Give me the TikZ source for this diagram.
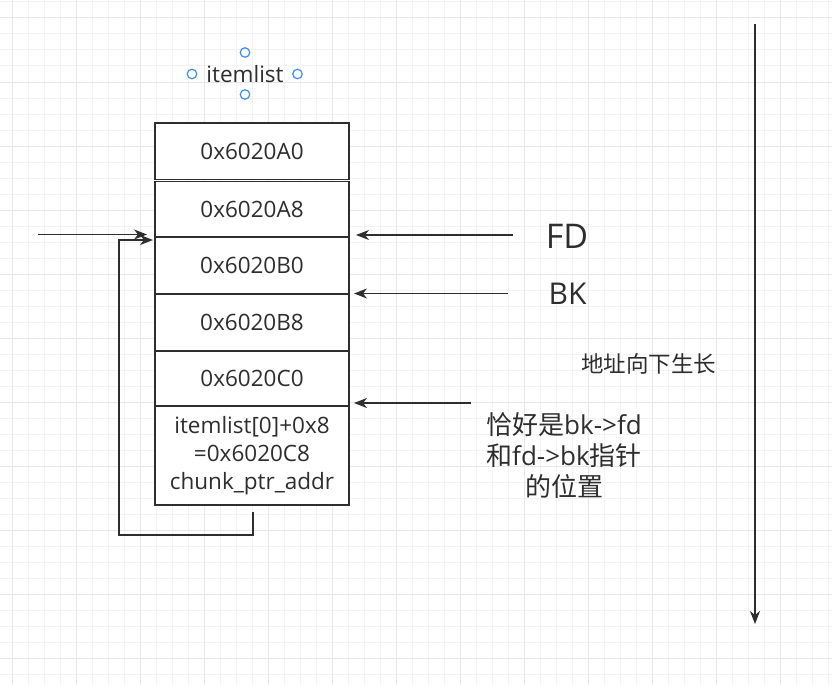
\documentclass[tikz,border=0pt]{standalone}
\usepackage{fontspec}
\setmainfont{Open Sans}
\newfontfamily\cjk{Noto Sans CJK SC}
\usetikzlibrary{arrows.meta}
\definecolor{ink}{HTML}{2E2E2E}
\definecolor{gminor}{HTML}{F3F3F3}
\definecolor{gmajor}{HTML}{E8E8E8}
\definecolor{handle}{HTML}{3D8EF0}
\begin{document}
\begin{tikzpicture}[x=1pt,y=-1pt,
  cell/.style={draw=ink, line width=1.4pt, fill=white, minimum width=194pt, inner sep=0pt,
               font=\fontsize{22.5}{28}\selectfont, text=ink, align=center},
  arr/.style={draw=ink, line width=1.4pt, -{Stealth[length=13pt,width=10pt,inset=4pt]}},
  lbl/.style={text=ink, inner sep=0pt, align=center},
  hnd/.style={circle, draw=handle, line width=1.2pt, fill=white, minimum size=9.5pt, inner sep=0pt}]
\useasboundingbox (0,0) rectangle (832,685);
\fill[white] (0,0) rectangle (832,685);
% grid
\foreach \x in {12,28,...,828} \draw[gminor, line width=1pt] (\x,0) -- (\x,685);
\foreach \y in {2,18,...,674} \draw[gminor, line width=1pt] (0,\y) -- (832,\y);
\foreach \x in {12,76,...,780} \draw[gmajor, line width=1pt] (\x,0) -- (\x,685);
\foreach \y in {18,82,...,658} \draw[gmajor, line width=1pt] (0,\y) -- (832,\y);
% title with handles
\node[lbl, font=\fontsize{22.5}{27}\selectfont] (il) at (245,74) {itemlist};
\node[hnd] (h1) at (245,52.5) {};
\node[hnd] (h2) at (192,74) {};
\node[hnd] (h3) at (297.5,74) {};
\node[hnd] (h4) at (245,94.5) {};
% memory cells
\node[cell, minimum height=56.5pt] (r1) at (252,151.25) {0x6020A0};
\node[cell, minimum height=55.5pt] (r2) at (252,209.25) {0x6020A8};
\node[cell, minimum height=57pt] (r3) at (252,265.5) {0x6020B0};
\node[cell, minimum height=57pt] (r4) at (252,322.5) {0x6020B8};
\node[cell, minimum height=55pt] (r5) at (252,378.5) {0x6020C0};
\node[cell, minimum height=99pt] (r6) at (252,455.5) {itemlist[0]+0x8\\=0x6020C8\\chunk\_ptr\_addr};
% labels
\node[lbl, font=\fontsize{34}{40}\selectfont] (fd) at (567,236) {FD};
\node[lbl, font=\fontsize{30}{36}\selectfont] (bk) at (567.5,294) {BK};
\node[lbl, font=\fontsize{26}{31}\selectfont] (note) at (564,456)
  {{\cjk 恰好是}bk->fd\\{\cjk 和}fd->bk{\cjk 指针}\\{\cjk 的位置}};
\node[lbl, font=\cjk\fontsize{22.5}{27}\selectfont] (grow) at (648.5,364) {地址向下生长};
% connector end points
\coordinate (fdS) at (513,235);
\coordinate (fdE) at (356,235);
\coordinate (bkS) at (508,293.5);
\coordinate (bkE) at (354,293.5);
\coordinate (ntS) at (471,403);
\coordinate (ntE) at (354,403);
\coordinate (inS) at (38,234.5);
\coordinate (inE) at (147,234.5);
\coordinate (lpS) at (253,512);
\coordinate (lpC) at (119,535);
\coordinate (lpE) at (153,240);
\coordinate (vS) at (755,24);
\coordinate (vE) at (755,624);
% connectors
\draw[arr] (fdS) -- (fdE);
\draw[arr] (bkS) -- (bkE);
\draw[arr] (ntS) -- (ntE);
\draw[arr] (inS) -- (inE);
\draw[arr] (lpS) |- (lpC) |- (lpE);
\draw[arr] (vS) -- (vE);
\end{tikzpicture}
\end{document}
